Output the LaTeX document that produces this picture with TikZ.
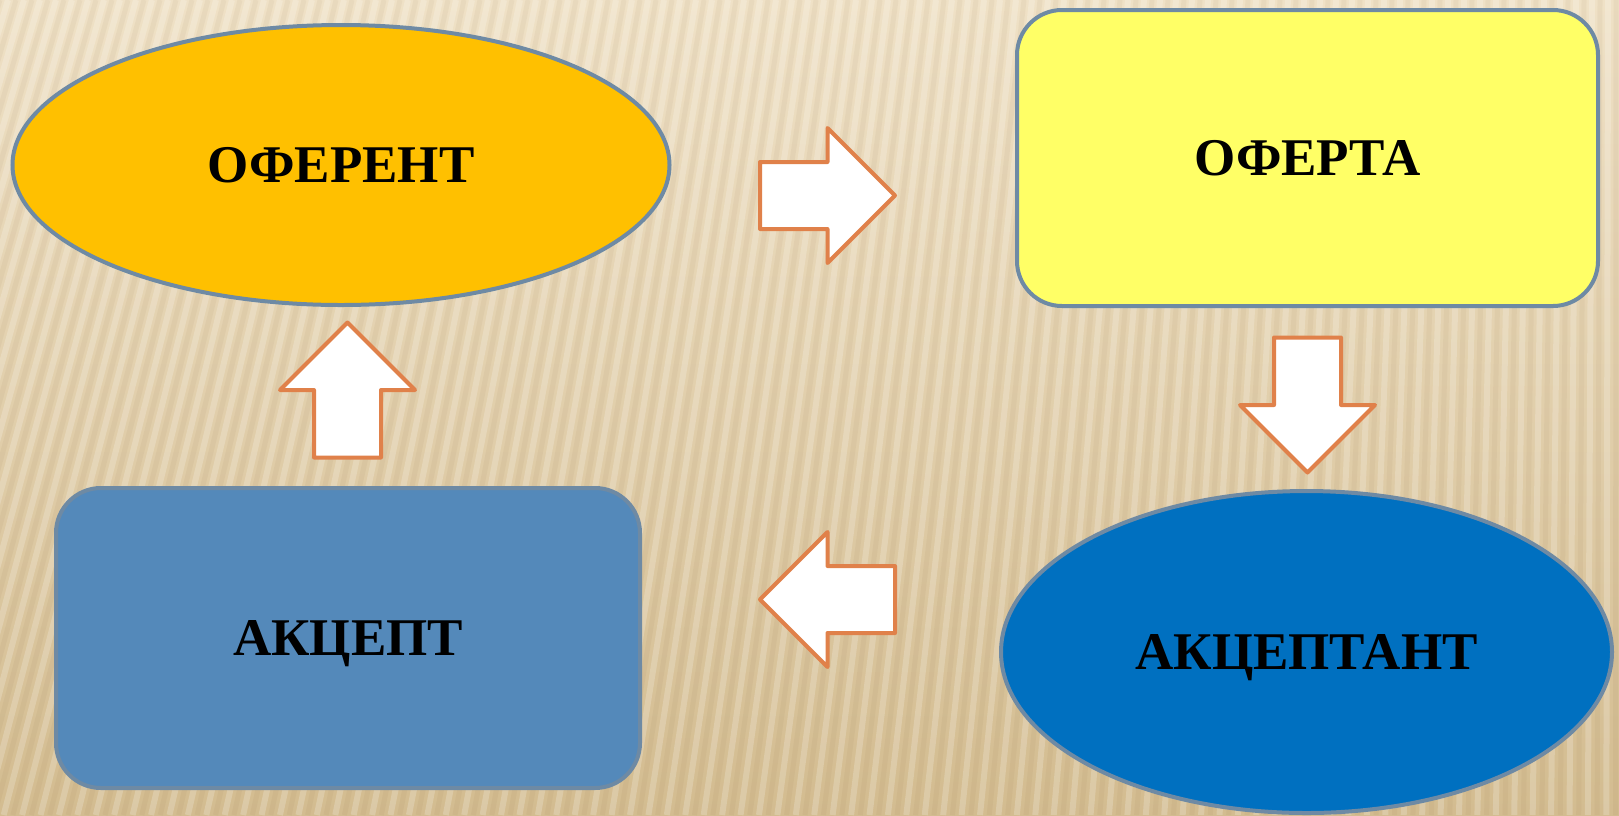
\documentclass[tikz,border=0pt]{standalone}
\usepackage{fontspec}
\setmainfont{Liberation Serif}
\usetikzlibrary{shapes.geometric}

\definecolor{bgtop}{HTML}{EFE1C6}
\definecolor{bgbot}{HTML}{D3BC90}
\definecolor{edgegray}{HTML}{6E8AA4}
\definecolor{oferentfill}{HTML}{FFC000}
\definecolor{ofertafill}{HTML}{FFFF66}
\definecolor{akceptantfill}{HTML}{0070C0}
\definecolor{akceptfill}{HTML}{5489BA}
\definecolor{arrowline}{HTML}{E0814A}

\tikzset{
  block/.style={draw=edgegray,line width=4pt,inner sep=0pt,text depth=0pt,
    font=\fontsize{53}{60}\selectfont\bfseries},
  roundbox/.style={block,rectangle,rounded corners=45pt},
  ovalbox/.style={block,ellipse},
  blockarrow/.style={draw=arrowline,fill=white,line width=4pt,line join=round}
}

\begin{document}
\begin{tikzpicture}[x=1pt,y=-1pt]
\useasboundingbox (0,0) rectangle (1619,815);

% Background
\shade[top color=bgtop,bottom color=bgbot] (0,0) rectangle (1619,815);
\begin{scope}
\clip (0,0) rectangle (1619,815);
\foreach \t in {-280,-264,...,1650}
  \draw[white,opacity=0.2,line width=6pt] (\t,0) -- ({\t-245*(1-\t/1619)},815);
\foreach \t in {-272,-256,...,1650}
  \draw[brown!60!black,opacity=0.05,line width=5pt] (\t,0) -- ({\t-245*(1-\t/1619)},815);
\end{scope}

% Shapes
\node[ovalbox,fill=oferentfill,minimum width=657pt,minimum height=280pt] (oferent) at (341,165) {ОФЕРЕНТ};
\node[roundbox,fill=ofertafill,minimum width=581pt,minimum height=296pt] (oferta) at (1307.5,158) {ОФЕРТА};
\node[ovalbox,fill=akceptantfill,minimum width=611pt,minimum height=322pt] (akceptant) at (1306.5,652) {АКЦЕПТАНТ};
\node[roundbox,fill=akceptfill,minimum width=584pt,minimum height=300pt] (akcept) at (348,638) {АКЦЕПТ};

% Block arrows (right, down, left, up)
\foreach \cx/\cy/\ang in {827.5/195.5/0, 1307.5/405/-90, 827.5/599.5/180, 347.5/390/90}
  \draw[blockarrow,shift={(\cx,\cy)},rotate=\ang]
    (-67.5,-33.5) -- (0,-33.5) -- (0,-67.5) -- (67.5,0) -- (0,67.5) -- (0,33.5) -- (-67.5,33.5) -- cycle;
\end{tikzpicture}
\end{document}
